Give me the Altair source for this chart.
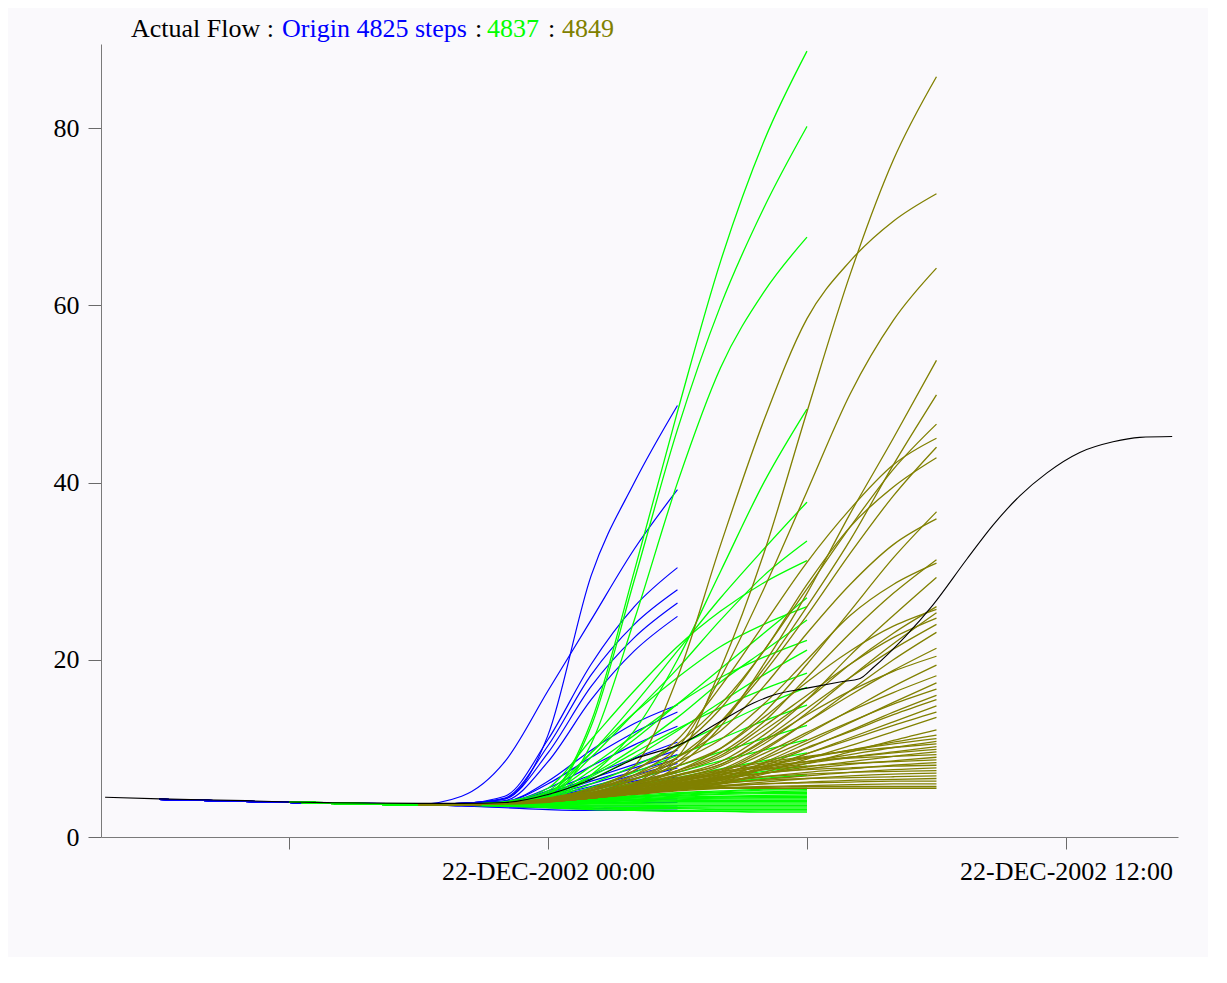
import altair as alt
import pandas as pd

# ---------------- text / axes ----------------
TITLE_PARTS = ["Actual Flow :", "Origin 4825 steps", ":", "4837", ":", "4849"]
TITLE_COLORS = ["#000000", "#0000FF", "#000000", "#00FF00", "#000000", "#808000"]
TITLE_X = [30, 181, 374, 386, 447, 461]

X_TICKS = [-6, 0, 6, 12]                      # hours relative to 22-DEC-2002 00:00
X_TICK_LABELS = ["", "22-DEC-2002 00:00", "", "22-DEC-2002 12:00"]
Y_TICKS = [0, 20, 40, 60, 80]
X_DOMAIN = [-10.355, 14.595]
Y_DOMAIN = [0, 89.5]

# ---------------- actual flow (black) ----------------
ACTUAL_T = [-10.26, -9, -7, -6, -5, -3, -2, -1, 0, 1, 2, 3.13, 3.98, 4.75, 5.21, 6.0,
            6.76, 7.23, 7.53, 8.27, 8.92, 9.71, 10.31, 10.93, 11.56, 12.32, 13.09, 13.71, 14.46]
ACTUAL_V = [4.48, 4.3, 4.1, 3.95, 3.87, 3.8, 3.8, 3.9, 4.8, 6.5, 8.8, 10.6, 13.0, 15.1, 16.0, 16.8,
            17.5, 17.9, 19.1, 22.6, 26.2, 31.4, 35.2, 38.5, 41.1, 43.4, 44.6, 45.1, 45.2]

# ---------------- origin 4825 (blue) ----------------
BLUE_T = [-9, -6, -3, -2, -1, 0, 1, 2, 3]
BLUE_BASE = [4.25, 3.9, 3.7]
BLUE_MEMBERS = [
    [3.8, 4.3, 11.5, 29.5, 40.0, 48.7],
    [4.6, 8.5, 16.5, 24.5, 32.5, 39.2],
    [3.8, 4.6, 11.0, 19.5, 26.0, 30.4],
    [3.8, 4.4, 10.3, 18.3, 24.0, 27.9],
    [3.8, 4.3, 9.5, 17.0, 22.5, 26.4],
    [3.8, 4.1, 8.5, 15.5, 21.0, 24.9],
    [3.8, 4.0, 6.3, 9.8, 12.8, 14.9],
    [3.8, 4.0, 6.0, 9.0, 11.8, 14.1],
    [3.7, 3.9, 5.5, 8.0, 10.4, 12.5],
    [3.7, 3.9, 5.2, 7.0, 8.9, 10.7],
    [3.7, 3.9, 5.0, 6.6, 8.2, 9.8],
    [3.7, 3.9, 4.9, 6.3, 7.8, 9.3],
    [3.7, 3.8, 4.7, 6.0, 7.4, 8.8],
    [3.7, 3.8, 4.6, 5.7, 7.0, 8.3],
    [3.7, 3.8, 4.5, 5.5, 6.6, 7.8],
    [3.7, 3.8, 4.4, 5.3, 6.3, 7.3],
    [3.7, 3.8, 4.3, 5.0, 5.9, 6.8],
    [3.7, 3.7, 4.2, 4.8, 5.5, 6.3],
    [3.7, 3.7, 4.1, 4.6, 5.2, 5.8],
    [3.7, 3.7, 4.0, 4.4, 4.9, 5.3],
    [3.7, 3.7, 3.9, 4.2, 4.5, 4.8],
    [3.7, 3.7, 3.8, 4.0, 4.2, 4.3],
    [3.6, 3.6, 3.7, 3.8, 3.9, 3.9],
    [3.6, 3.5, 3.5, 3.5, 3.5, 3.5],
    [3.5, 3.4, 3.3, 3.2, 3.2, 3.2],
    [3.5, 3.3, 3.1, 3.0, 3.0, 3.0],
]

# ---------------- origin 4837 (green) ----------------
GREEN_T = [-6, -3, -2, -1, 0, 1, 2, 3, 4, 5, 6]
GREEN_BASE = [3.95, 3.65]
GREEN_MEMBERS = [
    [3.7, 3.8, 4.8, 13.0, 30.0, 48.0, 65.0, 78.5, 88.7],
    [3.7, 3.8, 4.8, 12.5, 29.0, 46.0, 60.0, 71.0, 80.2],
    [3.7, 3.8, 4.5, 10.5, 24.5, 40.0, 53.0, 61.5, 67.7],
    [3.7, 3.8, 4.2, 7.0, 12.0, 20.0, 30.0, 40.0, 48.3],
    [3.7, 3.9, 5.0, 9.5, 15.0, 21.0, 27.0, 32.5, 37.8],
    [3.7, 3.8, 4.8, 9.0, 14.0, 19.0, 24.5, 29.5, 33.4],
    [3.7, 4.0, 5.5, 11.0, 16.5, 21.5, 25.5, 28.7, 31.2],
    [3.7, 3.8, 4.6, 7.5, 11.0, 15.0, 19.0, 23.0, 27.0],
    [3.7, 3.9, 5.2, 9.5, 14.0, 18.0, 21.5, 24.0, 26.0],
    [3.7, 3.8, 4.5, 7.0, 10.0, 13.5, 17.5, 21.0, 24.5],
    [3.7, 3.8, 4.8, 8.0, 11.5, 15.0, 18.0, 20.3, 22.2],
    [3.7, 3.8, 4.4, 6.5, 9.0, 12.0, 15.2, 18.3, 21.1],
    [3.7, 3.8, 4.5, 6.8, 9.5, 12.2, 14.6, 16.7, 18.5],
    [3.7, 3.8, 4.3, 6.0, 8.0, 10.3, 12.6, 14.9, 16.9],
    [3.7, 3.8, 4.2, 5.6, 7.3, 9.2, 11.1, 13.1, 14.9],
    [3.7, 3.8, 4.1, 5.2, 6.5, 8.0, 9.6, 11.1, 12.6],
    [3.7, 3.7, 4.0, 5.0, 6.1, 7.3, 8.6, 9.8, 11.0],
    [3.7, 3.7, 4.0, 4.8, 5.7, 6.7, 7.7, 8.6, 9.5],
    [3.7, 3.7, 3.9, 4.6, 5.3, 6.0, 6.7, 7.4, 8.0],
    [3.7, 3.7, 3.9, 4.4, 5.0, 5.6, 6.1, 6.6, 7.0],
    [3.7, 3.7, 3.9, 4.3, 4.7, 5.0, 5.2, 5.4, 5.5],
    [3.7, 3.7, 3.9, 4.3, 4.6, 4.9, 5.1, 5.3, 5.35],
    [3.7, 3.7, 3.8, 4.2, 4.5, 4.8, 5.0, 5.1, 5.2],
    [3.7, 3.7, 3.8, 4.2, 4.5, 4.7, 4.9, 5.0, 5.05],
    [3.7, 3.7, 3.8, 4.1, 4.4, 4.6, 4.8, 4.9, 4.9],
    [3.7, 3.7, 3.8, 4.1, 4.3, 4.5, 4.6, 4.7, 4.75],
    [3.7, 3.7, 3.8, 4.0, 4.2, 4.4, 4.5, 4.6, 4.6],
    [3.7, 3.7, 3.8, 4.0, 4.2, 4.3, 4.4, 4.45, 4.45],
    [3.7, 3.7, 3.7, 3.9, 4.1, 4.2, 4.3, 4.3, 4.3],
    [3.7, 3.7, 3.7, 3.9, 4.0, 4.1, 4.15, 4.15, 4.15],
    [3.7, 3.7, 3.7, 3.8, 3.9, 4.0, 4.0, 4.0, 4.0],
    [3.7, 3.7, 3.7, 3.8, 3.8, 3.85, 3.85, 3.85, 3.85],
    [3.7, 3.6, 3.6, 3.7, 3.7, 3.7, 3.7, 3.7, 3.7],
    [3.7, 3.6, 3.6, 3.6, 3.6, 3.55, 3.55, 3.55, 3.55],
    [3.6, 3.6, 3.5, 3.5, 3.5, 3.4, 3.4, 3.4, 3.4],
    [3.6, 3.6, 3.5, 3.4, 3.3, 3.3, 3.25, 3.25, 3.25],
    [3.6, 3.5, 3.4, 3.3, 3.2, 3.2, 3.1, 3.1, 3.1],
    [3.6, 3.5, 3.4, 3.2, 3.1, 3.0, 2.95, 2.95, 2.95],
    [3.6, 3.5, 3.3, 3.1, 3.0, 2.9, 2.9, 2.8, 2.8],
]

# ---------------- origin 4849 (olive) ----------------
OLIVE_T = [-3, -2, -1, 0, 1, 2, 3, 4, 5, 6, 7, 8, 9]
OLIVE_BASE = [3.65, 3.65]
OLIVE_MEMBERS = [
    [3.8, 4.3, 5.0, 6.5, 9.0, 19.0, 32.0, 48.0, 63.5, 76.4, 85.8],
    [3.8, 4.4, 5.5, 8.0, 18.0, 33.0, 47.0, 58.5, 65.0, 69.5, 72.6],
    [3.8, 4.3, 4.8, 6.0, 10.0, 18.0, 28.0, 39.0, 50.0, 58.3, 64.2],
    [3.8, 4.2, 4.7, 5.5, 8.0, 12.5, 19.5, 27.5, 36.5, 45.0, 53.8],
    [3.8, 4.2, 4.8, 6.0, 8.5, 13.0, 19.0, 26.0, 33.5, 42.0, 49.9],
    [3.8, 4.3, 5.2, 7.0, 10.0, 14.5, 21.0, 28.0, 35.0, 41.5, 46.6],
    [3.8, 4.3, 5.3, 7.5, 11.0, 17.0, 24.0, 31.0, 37.0, 42.0, 45.0],
    [3.8, 4.2, 5.0, 6.5, 9.0, 13.0, 18.5, 25.0, 32.0, 38.5, 44.0],
    [3.8, 4.3, 5.5, 7.5, 10.5, 15.0, 21.0, 28.5, 35.0, 39.5, 42.8],
    [3.8, 4.2, 4.9, 6.0, 7.5, 10.0, 14.0, 19.5, 25.5, 31.5, 36.7],
    [3.8, 4.3, 5.3, 7.0, 9.0, 12.0, 17.0, 23.0, 28.5, 33.0, 35.9],
    [3.8, 4.2, 4.9, 6.0, 7.5, 9.5, 13.0, 18.0, 23.0, 27.5, 31.3],
    [3.8, 4.3, 5.2, 6.8, 8.5, 11.0, 15.0, 20.0, 25.0, 28.5, 30.9],
    [3.8, 4.2, 4.8, 5.8, 7.0, 8.5, 11.5, 15.5, 20.5, 25.0, 29.3],
    [3.8, 4.2, 4.9, 6.0, 7.3, 9.0, 12.0, 15.5, 19.5, 23.0, 26.0],
    [3.8, 4.3, 5.2, 6.6, 8.0, 10.0, 13.5, 17.5, 21.0, 23.8, 25.7],
    [3.8, 4.1, 4.7, 5.6, 6.6, 8.0, 10.5, 14.0, 18.0, 21.8, 25.3],
    [3.8, 4.2, 5.0, 6.2, 7.5, 9.2, 12.5, 16.0, 19.5, 22.5, 24.7],
    [3.8, 4.2, 4.8, 5.8, 6.9, 8.2, 11.0, 14.5, 18.0, 21.2, 24.0],
    [3.8, 4.1, 4.7, 5.5, 6.3, 7.4, 9.8, 13.0, 16.5, 20.0, 23.1],
    [3.8, 4.1, 4.7, 5.6, 6.5, 7.6, 10.0, 13.0, 16.0, 18.8, 21.3],
    [3.8, 4.2, 4.9, 5.9, 7.0, 8.2, 10.8, 13.8, 16.5, 18.7, 20.4],
    [3.8, 4.1, 4.6, 5.3, 6.0, 6.9, 9.0, 11.6, 14.3, 17.0, 19.4],
    [3.8, 4.1, 4.7, 5.5, 6.3, 7.3, 9.4, 11.8, 14.2, 16.3, 18.2],
    [3.8, 4.0, 4.5, 5.1, 5.8, 6.6, 8.4, 10.6, 12.9, 15.2, 17.4],
    [3.8, 4.1, 4.6, 5.3, 6.1, 7.0, 8.8, 10.9, 13.0, 15.0, 16.7],
    [3.8, 4.0, 4.5, 5.1, 5.7, 6.4, 8.0, 10.0, 12.0, 14.1, 16.0],
    [3.8, 4.1, 4.6, 5.2, 5.9, 6.7, 8.3, 10.1, 11.9, 13.8, 15.5],
    [3.8, 4.0, 4.4, 5.0, 5.6, 6.2, 7.7, 9.4, 11.2, 13.0, 14.8],
    [3.8, 4.0, 4.5, 5.1, 5.8, 6.4, 7.8, 9.4, 11.0, 12.6, 14.1],
    [3.8, 4.0, 4.4, 4.9, 5.5, 6.0, 7.3, 8.8, 10.3, 11.9, 13.5],
    [3.8, 4.0, 4.4, 4.9, 5.4, 6.0, 7.1, 8.3, 9.6, 10.9, 12.1],
    [3.8, 4.1, 4.6, 5.3, 6.2, 7.1, 8.0, 8.9, 9.8, 10.7, 11.5],
    [3.8, 4.1, 4.7, 5.5, 6.4, 7.3, 8.2, 9.0, 9.8, 10.5, 11.1],
    [3.8, 4.0, 4.5, 5.1, 5.9, 6.8, 7.7, 8.5, 9.3, 10.1, 10.8],
    [3.8, 4.1, 4.8, 5.7, 6.7, 7.6, 8.4, 9.1, 9.7, 10.1, 10.5],
    [3.8, 4.0, 4.5, 5.2, 6.0, 6.8, 7.6, 8.3, 9.0, 9.6, 10.2],
    [3.8, 4.1, 4.7, 5.5, 6.4, 7.2, 7.9, 8.5, 9.0, 9.5, 9.9],
    [3.8, 4.0, 4.5, 5.1, 5.8, 6.5, 7.2, 7.9, 8.5, 9.1, 9.6],
    [3.8, 4.1, 4.8, 5.7, 6.6, 7.4, 8.0, 8.5, 8.9, 9.1, 9.3],
    [3.8, 4.0, 4.5, 5.2, 5.9, 6.6, 7.2, 7.7, 8.2, 8.6, 9.0],
    [3.8, 4.1, 4.7, 5.5, 6.3, 7.0, 7.6, 8.0, 8.3, 8.5, 8.7],
    [3.8, 4.0, 4.4, 5.0, 5.6, 6.2, 6.8, 7.3, 7.7, 8.1, 8.4],
    [3.8, 4.1, 4.7, 5.4, 6.1, 6.7, 7.2, 7.6, 7.8, 8.0, 8.1],
    [3.8, 4.0, 4.4, 4.9, 5.5, 6.0, 6.5, 6.9, 7.3, 7.6, 7.8],
    [3.8, 4.1, 4.6, 5.3, 5.9, 6.4, 6.8, 7.1, 7.3, 7.4, 7.5],
    [3.8, 4.0, 4.4, 4.9, 5.4, 5.8, 6.2, 6.6, 6.9, 7.1, 7.2],
    [3.8, 4.1, 4.6, 5.2, 5.7, 6.1, 6.4, 6.6, 6.7, 6.8, 6.9],
    [3.8, 4.0, 4.4, 4.9, 5.3, 5.7, 6.0, 6.2, 6.4, 6.5, 6.6],
    [3.8, 4.1, 4.6, 5.1, 5.5, 5.8, 6.0, 6.1, 6.2, 6.3, 6.3],
    [3.8, 4.0, 4.4, 4.8, 5.2, 5.5, 5.7, 5.8, 5.9, 6.0, 6.0],
    [3.8, 4.0, 4.9, 5.4, 5.5, 5.6, 5.6, 5.7, 5.7, 5.7, 5.7],
    [3.7, 3.9, 4.8, 5.3, 5.4, 5.5, 5.5, 5.5, 5.5, 5.5, 5.5],
]

COLORS = {"blue": "#0000FF", "green": "#00FF00", "olive": "#808000", "actual": "#000000"}


def long_table(name, times, base, members):
    rows = []
    for m, vals in enumerate(members):
        for t, v in zip(times, list(base) + list(vals)):
            rows.append({"member": f"{name}{m}", "t": t, "v": v})
    return pd.DataFrame(rows)


blue_df = long_table("b", BLUE_T, BLUE_BASE, BLUE_MEMBERS)
green_df = long_table("g", GREEN_T, GREEN_BASE, GREEN_MEMBERS)
olive_df = long_table("o", OLIVE_T, OLIVE_BASE, OLIVE_MEMBERS)
actual_df = pd.DataFrame({"member": "actual", "t": ACTUAL_T, "v": ACTUAL_V})

label_expr = "".join(
    f"datum.value == {v} ? '{lab}' : " for v, lab in zip(X_TICKS, X_TICK_LABELS)
) + "''"

FONT = "Liberation Serif"

x_enc = alt.X(
    "t:Q",
    scale=alt.Scale(domain=X_DOMAIN, nice=False, zero=False),
    axis=alt.Axis(
        values=X_TICKS, labelExpr=label_expr, title=None, grid=False,
        tickSize=12, tickColor="#6a6a6a", domainColor="#7a7a7a",
        labelFont=FONT, labelFontSize=26, labelColor="#000000",
        labelPadding=9, labelFlush=False, labelOverlap=False, labelLimit=0,
    ),
)
y_enc = alt.Y(
    "v:Q",
    scale=alt.Scale(domain=Y_DOMAIN, nice=False, zero=True),
    axis=alt.Axis(
        values=Y_TICKS, title=None, grid=False,
        tickSize=13, tickColor="#6a6a6a", domainColor="#7a7a7a",
        labelFont=FONT, labelFontSize=26, labelColor="#000000",
        labelPadding=9, labelOverlap=False, labelLimit=0,
    ),
)


def lines(df, color, width):
    return alt.Chart(df).mark_line(
        color=color, strokeWidth=width, interpolate="monotone", clip=True
    ).encode(x=x_enc, y=y_enc, detail="member:N", order="t:Q")


layers = [
    lines(blue_df, COLORS["blue"], 1.2),
    lines(green_df, COLORS["green"], 1.3),
    lines(olive_df, COLORS["olive"], 1.3),
    lines(actual_df, COLORS["actual"], 1.1),
]

for text, color, px in zip(TITLE_PARTS, TITLE_COLORS, TITLE_X):
    layers.append(
        alt.Chart(pd.DataFrame({"s": [text]})).mark_text(
            align="left", baseline="alphabetic", font=FONT, fontSize=26, color=color
        ).encode(text="s:N", x=alt.value(px), y=alt.value(-7))
    )

chart = alt.layer(*layers).properties(
    width=1077,
    height=793,
    autosize=alt.AutoSizeParams(type="none"),
    padding={"left": 93, "top": 36, "right": 30, "bottom": 120},
    background="#FAF9FC",
).configure_view(stroke=None)

chart.save("out.html", embed_options={"renderer": "svg", "actions": False})
